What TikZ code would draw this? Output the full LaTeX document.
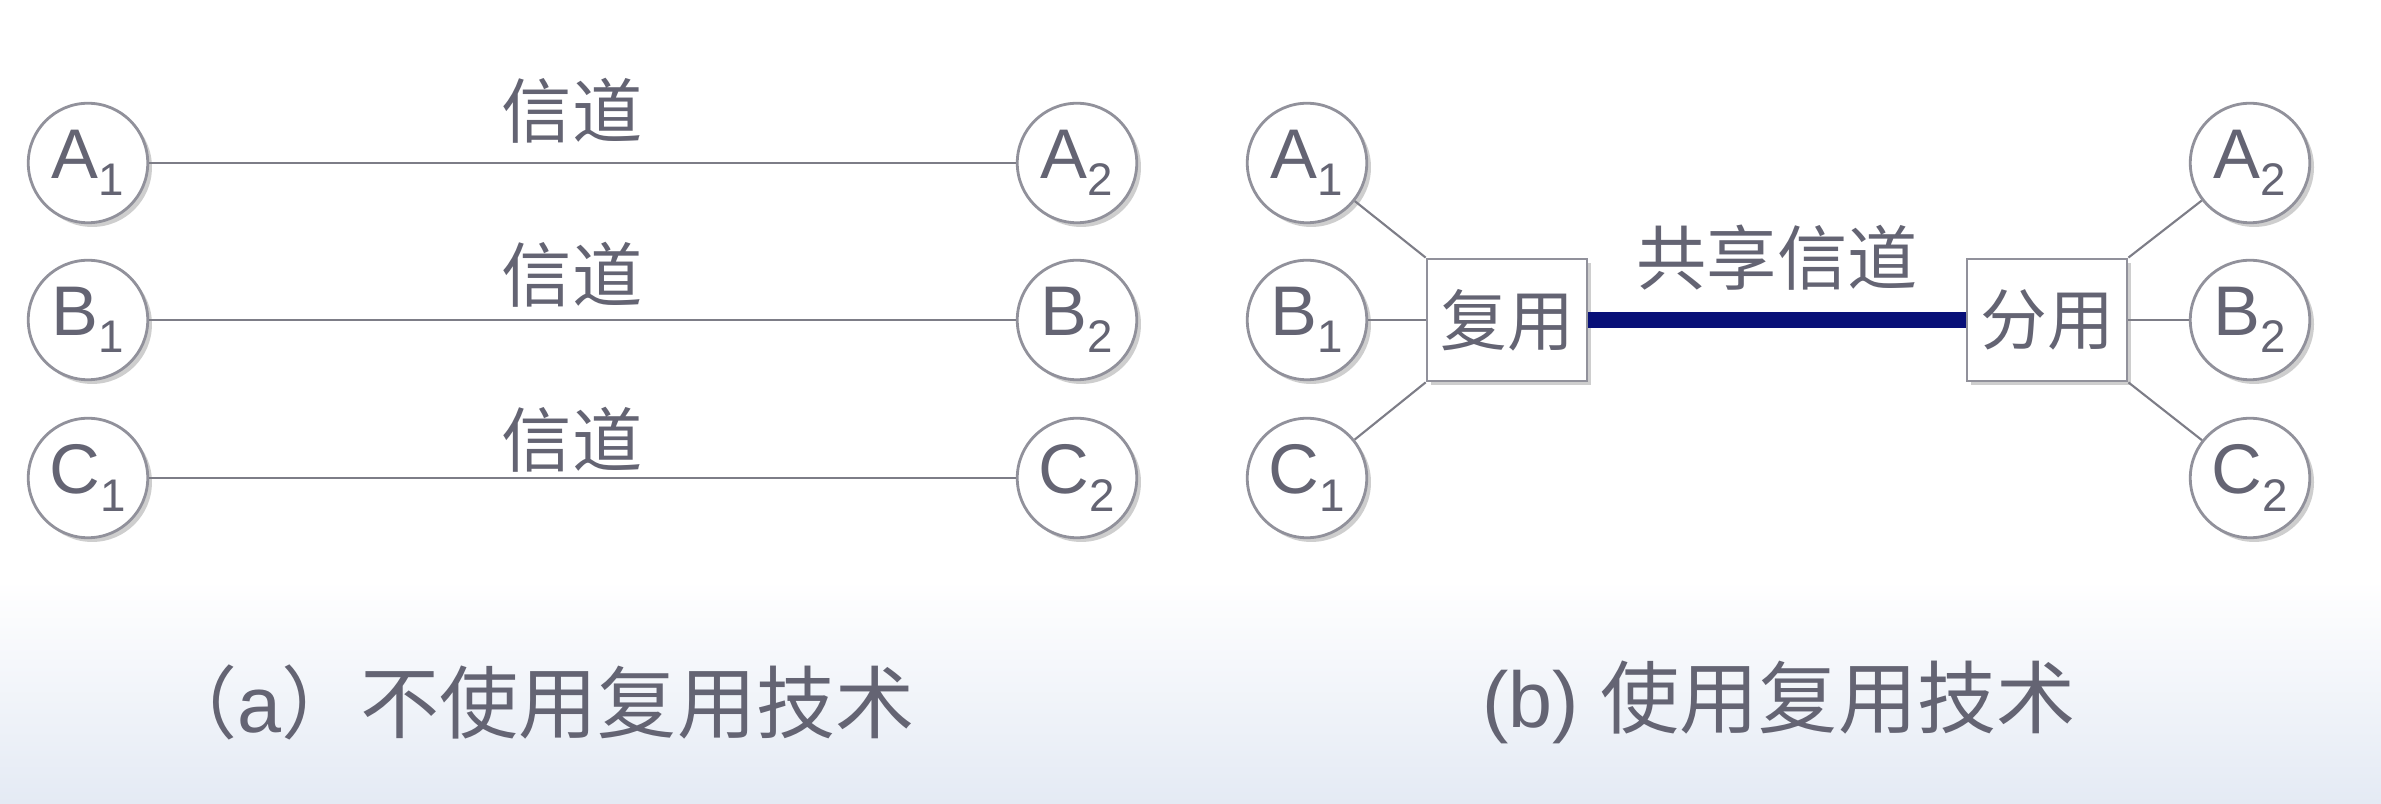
\documentclass[tikz,border=0pt]{standalone}
\usepackage{fontspec}
\setmainfont{Liberation Sans}
\newfontfamily\cjk{Noto Sans CJK SC}
\usetikzlibrary{shadows}
\definecolor{txt}{RGB}{100,100,115}
\definecolor{ln}{RGB}{125,125,135}
\definecolor{bd}{RGB}{145,145,155}
\definecolor{navyline}{RGB}{8,16,120}
\definecolor{bgb}{RGB}{228,234,244}
\newcommand{\sta}[2]{#1\raisebox{-5pt}{\fontsize{13}{14}\selectfont #2}}
\begin{document}
\begin{tikzpicture}[x=0.2845pt,y=-0.2845pt,
  station/.style={circle,draw=bd,line width=0.8pt,fill=white,minimum size=34pt,inner sep=0pt,
    text=txt,font=\fontsize{20}{21}\selectfont,
    drop shadow={shadow xshift=1.2pt,shadow yshift=-1.2pt,opacity=0.35,fill=black!55}},
  muxbox/.style={rectangle,draw=bd,line width=0.8pt,fill=white,minimum width=45.5pt,minimum height=34.7pt,
    inner sep=0pt,text=txt,font=\cjk\fontsize{19}{20}\selectfont,
    drop shadow={shadow xshift=1.2pt,shadow yshift=-1.2pt,opacity=0.35,fill=black!55}},
  chan/.style={draw=ln,line width=0.6pt},
  lbl/.style={text=txt,font=\cjk\fontsize{20}{22}\selectfont,inner sep=0pt},
  captext/.style={text=txt,font=\fontsize{22.5}{24}\selectfont,inner sep=0pt}]
\useasboundingbox (0,0) rectangle (2381,804);
\fill[white] (0,0) rectangle (2381,580);
\shade[top color=white,bottom color=bgb] (0,580) rectangle (2381,804);

% (a) without multiplexing
\node[station] (la1) at (88,163) {\sta{A}{1}};
\node[station] (lb1) at (88,320) {\sta{B}{1}};
\node[station] (lc1) at (88,478) {\sta{C}{1}};
\node[station] (la2) at (1077,163) {\sta{A}{2}};
\node[station] (lb2) at (1077,320) {\sta{B}{2}};
\node[station] (lc2) at (1077,478) {\sta{C}{2}};
\draw[chan] (la1) -- (la2);
\draw[chan] (lb1) -- (lb2);
\draw[chan] (lc1) -- (lc2);
\node[lbl] (ta) at (572,111) {信道};
\node[lbl] (tb) at (572,275) {信道};
\node[lbl] (tc) at (572,440) {信道};

% (b) with multiplexing
\node[station] (ra1) at (1307,163) {\sta{A}{1}};
\node[station] (rb1) at (1307,320) {\sta{B}{1}};
\node[station] (rc1) at (1307,478) {\sta{C}{1}};
\node[station] (ra2) at (2250,163) {\sta{A}{2}};
\node[station] (rb2) at (2250,320) {\sta{B}{2}};
\node[station] (rc2) at (2250,478) {\sta{C}{2}};
\node[muxbox] (mux) at (1507,320) {复用};
\node[muxbox] (demux) at (2047,320) {分用};
\draw[chan] (ra1) -- (mux.north west);
\draw[chan] (rb1) -- (mux.west);
\draw[chan] (rc1) -- (mux.south west);
\draw[chan] (ra2) -- (demux.north east);
\draw[chan] (rb2) -- (demux.east);
\draw[chan] (rc2) -- (demux.south east);
\draw[navyline,line width=4.6pt] (mux.east) -- (demux.west);
\node[lbl] (shared) at (1777,258) {共享信道};

% captions
\node[captext,anchor=east] (capa) at (915,702) {{\cjk （}a{\cjk ）不使用复用技术}};
\node[captext,anchor=east] (capb) at (2076,702) {(b) {\cjk 使用复用技术}};
\end{tikzpicture}
\end{document}
